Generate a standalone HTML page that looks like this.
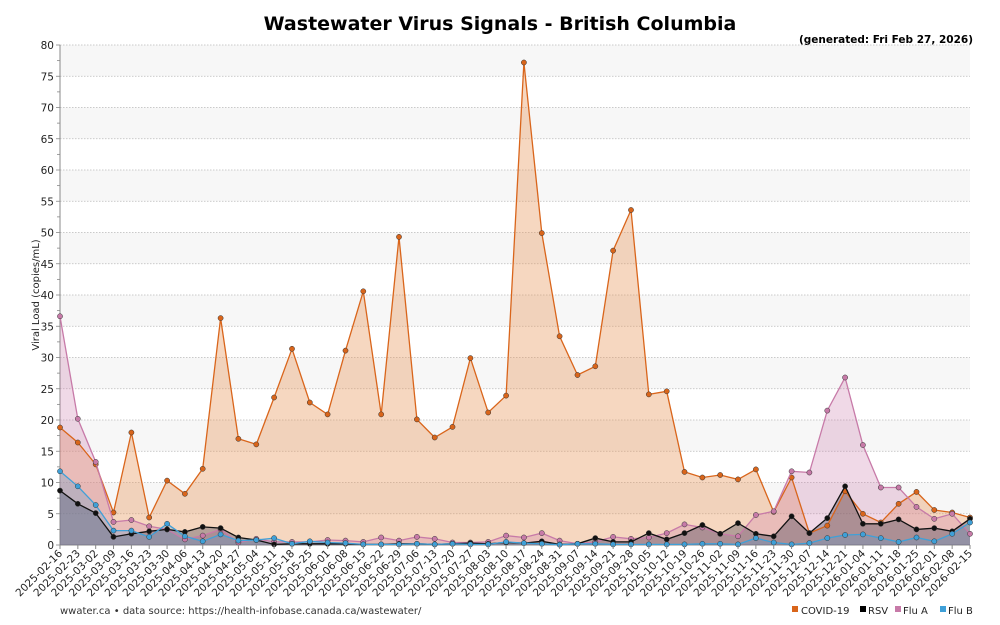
<!DOCTYPE html>
<html><head><meta charset="utf-8"><style>
html,body{margin:0;padding:0;background:#fff;}
svg{display:block;font-family:"DejaVu Sans","Liberation Sans",sans-serif;}
</style></head><body>
<svg id="c" width="1000" height="625" xmlns="http://www.w3.org/2000/svg">
<text x="500" y="30" text-anchor="middle" font-size="19" font-weight="bold" fill="#000">Wastewater Virus Signals - British Columbia</text>
<text x="973" y="43" text-anchor="end" font-size="10.5" font-weight="bold" fill="#000">(generated: Fri Feb 27, 2026)</text>
<text transform="translate(39,295) rotate(-90)" text-anchor="middle" font-size="10" fill="#222">Viral Load (copies/mL)</text>
<text x="60" y="614" font-size="10" fill="#333">wwater.ca • data source: https://health-infobase.canada.ca/wastewater/</text>
<g font-size="10" fill="#222">
<rect x="792" y="606" width="6" height="6" fill="#d9651b"/><text x="801" y="614">COVID-19</text>
<rect x="860" y="606" width="6" height="6" fill="#000"/><text x="868" y="614">RSV</text>
<rect x="895" y="606" width="6" height="6" fill="#c77aa8"/><text x="903" y="614">Flu A</text>
<rect x="940" y="606" width="6" height="6" fill="#3fa0d8"/><text x="948" y="614">Flu B</text>
</g>
<g id="plot"></g>
</svg>
<script>
const X0=60,X1=970,Y0=545,S=6.25;
const dates=[];let d=new Date(Date.UTC(2025,1,16));
for(let i=0;i<45;i++){dates.push(new Date(d));d.setUTCDate(d.getUTCDate()+7);}
d=new Date(Date.UTC(2026,0,4));for(let i=0;i<7;i++){dates.push(new Date(d));d.setUTCDate(d.getUTCDate()+7);}
const n=dates.length,dx=(X1-X0)/(n-1);
const cov=[18.8,16.4,12.9,5.2,18,4.4,10.3,8.2,12.2,36.3,17,16.1,23.6,31.4,22.8,20.9,31.1,40.6,20.9,49.3,20.1,17.2,18.9,29.9,21.2,23.9,77.2,49.9,33.4,27.2,28.6,47.1,53.6,24.1,24.6,11.7,10.8,11.2,10.5,12.1,5.3,10.8,1.9,3.1,8.6,5.0,3.6,6.6,8.5,5.6,5.2,4.4];
const fa=[36.6,20.2,13.3,3.7,4.0,3.0,2.5,0.9,1.5,2.5,0.4,1.0,0.5,0.5,0.5,0.8,0.7,0.5,1.2,0.7,1.3,1.0,0.4,0.4,0.5,1.5,1.2,1.9,0.7,0.2,0.5,1.3,1.0,1.2,1.9,3.3,2.8,1.8,1.4,4.8,5.4,11.8,11.6,21.5,26.8,16,9.2,9.2,6.1,4.2,5.0,1.8];
const rsv=[8.7,6.6,5.1,1.3,1.8,2.2,2.5,2.1,2.9,2.7,1.2,0.8,0.1,0.2,0.2,0.2,0.2,0.1,0.1,0.2,0.2,0.1,0.2,0.3,0.2,0.4,0.3,0.6,0.1,0.2,1.1,0.5,0.5,1.9,0.9,1.9,3.2,1.8,3.5,1.8,1.4,4.6,1.9,4.3,9.4,3.4,3.4,4.1,2.5,2.7,2.2,4.2];
const fb=[11.8,9.4,6.4,2.3,2.3,1.3,3.4,1.4,0.6,1.7,0.7,0.8,1.1,0.2,0.6,0.4,0.3,0.1,0.1,0.1,0.2,0.1,0.2,0.1,0.1,0.5,0.3,0.2,0.05,0.2,0.2,0.1,0.1,0.1,0.1,0.1,0.2,0.2,0.1,1.1,0.4,0.1,0.3,1.1,1.6,1.7,1.1,0.5,1.2,0.6,1.8,3.6];
let h='';
for(let v=0;v<80;v+=5){const g=(v/5)%2==1;if(g)h+=`<rect x="${X0}" y="${Y0-(v+5)*S}" width="${X1-X0}" height="${5*S}" fill="#f7f7f7"/>`;}
for(let v=5;v<=80;v+=5){const y=Y0-v*S;h+=`<line x1="${X0}" x2="${X1}" y1="${y}" y2="${y}" stroke="#bbb" stroke-dasharray="1.5,1.5" stroke-width="0.8"/>`;}
for(let v=0;v<=80;v+=2.5){const y=Y0-v*S;h+=`<line x1="${v%5?X0-3:X0-4}" x2="${X0}" y1="${y}" y2="${y}" stroke="#888" stroke-width="0.8"/>`;}
for(let v=0;v<=80;v+=5){h+=`<text x="${X0-6}" y="${Y0-v*S+4}" text-anchor="end" font-size="10.5" fill="#222">${v}</text>`;}
h+=`<line x1="${X0}" x2="${X0}" y1="45" y2="${Y0}" stroke="#888"/><line x1="${X0}" x2="${X1}" y1="${Y0}" y2="${Y0}" stroke="#888"/>`;
const ser=[[cov,'#d9651b','rgba(232,150,90,0.38)'],[fa,'#c77aa8','rgba(200,120,170,0.28)'],[rsv,'#111','rgba(60,60,80,0.35)'],[fb,'#3fa0d8','rgba(70,150,210,0.25)']];
for(const [a,c,f] of ser){let p=a.map((v,i)=>`${(X0+i*dx).toFixed(1)},${(Y0-v*S).toFixed(1)}`).join(' ');h+=`<polygon points="${X0},${Y0} ${p} ${X1},${Y0}" fill="${f}"/>`;}
for(const [a,c,f] of ser){let p=a.map((v,i)=>`${(X0+i*dx).toFixed(1)},${(Y0-v*S).toFixed(1)}`).join(' ');h+=`<polyline points="${p}" fill="none" stroke="${c}" stroke-width="1.3"/>`;
a.forEach((v,i)=>{h+=`<circle cx="${(X0+i*dx).toFixed(1)}" cy="${(Y0-v*S).toFixed(1)}" r="2.6" fill="${c}" stroke="#333" stroke-width="0.5"/>`;});}
dates.forEach((dt,i)=>{const x=X0+i*dx;const s=dt.toISOString().slice(0,10);h+=`<line x1="${x}" x2="${x}" y1="${Y0}" y2="${Y0+4}" stroke="#888"/><text transform="translate(${x+3},${Y0+9}) rotate(-45)" text-anchor="end" font-size="10.5" fill="#222">${s}</text>`;});
document.getElementById('plot').innerHTML=h;
</script>
</body></html>
